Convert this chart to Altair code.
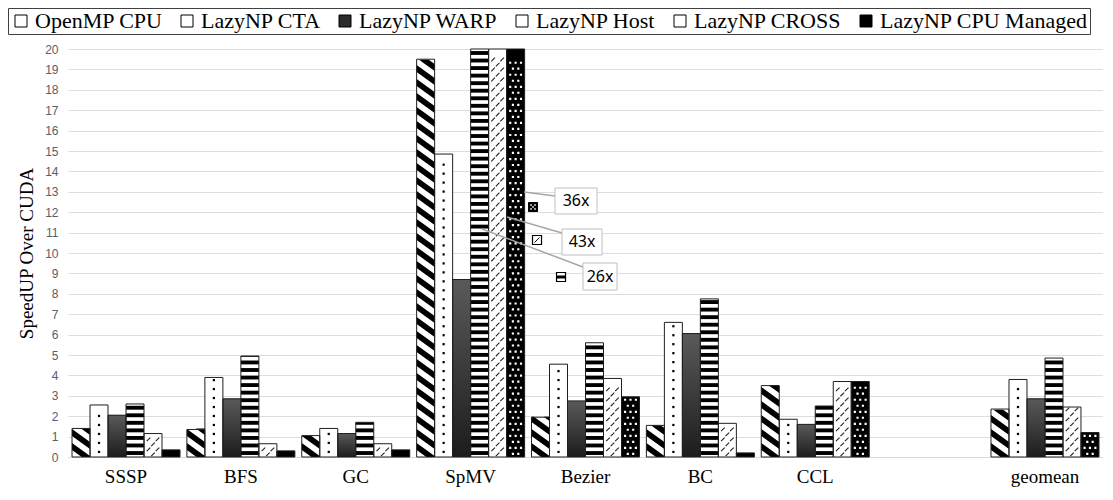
import altair as alt
import pandas as pd

# ---------------- data ----------------
categories = ["SSSP", "BFS", "GC", "SpMV", "Bezier", "BC", "CCL", " ", "geomean"]
series = ["OpenMP CPU", "LazyNP CTA", "LazyNP WARP", "LazyNP Host",
          "LazyNP CROSS", "LazyNP CPU Managed"]

openmp_cpu     = [1.40, 1.35, 1.05, 19.50, 1.95, 1.55, 3.50, None, 2.35]
lazynp_cta     = [2.55, 3.90, 1.40, 14.85, 4.55, 6.60, 1.85, None, 3.80]
lazynp_warp    = [2.05, 2.85, 1.15,  8.70, 2.75, 6.05, 1.60, None, 2.85]
lazynp_host    = [2.60, 4.95, 1.70, 26.00, 5.60, 7.75, 2.50, None, 4.85]
lazynp_cross   = [1.15, 0.65, 0.65, 43.00, 3.85, 1.65, 3.70, None, 2.45]
lazynp_managed = [0.35, 0.30, 0.35, 36.00, 2.95, 0.20, 3.70, None, 1.20]

y_ticks = list(range(0, 21))
Y_MAX = 20

rows = []
for s, vals in zip(series, [openmp_cpu, lazynp_cta, lazynp_warp,
                            lazynp_host, lazynp_cross, lazynp_managed]):
    for c, v in zip(categories, vals):
        if v is not None:
            rows.append({"category": c, "series": s, "value": v})
df = pd.DataFrame(rows)

# ---------------- layout / styles ----------------
PLOT_W, PLOT_H = 1035, 408
PX_PER_UNIT = PLOT_H / Y_MAX
SERIF = "Liberation Serif"
SANS = "Liberation Sans"
base_fills = ["#ffffff", "#ffffff", "#2b2b2b", "#ffffff", "#ffffff", "#000000"]

x_enc = alt.X(
    "category:N", sort=categories,
    scale=alt.Scale(domain=categories, paddingInner=0.06, paddingOuter=0.035),
    axis=alt.Axis(title=None, labelAngle=0, labelFont=SERIF, labelFontSize=19,
                  labelColor="black", labelPadding=10, ticks=False,
                  domain=True, domainColor="#d9d9d9", grid=False),
)
xo_enc = alt.XOffset("series:N", sort=series,
                     scale=alt.Scale(domain=series, paddingInner=0, paddingOuter=0))
y_scale = alt.Scale(domain=[0, Y_MAX], clamp=True, nice=False, zero=True)
y_axis = alt.Axis(title="SpeedUP Over CUDA", titleFont=SERIF, titleFontSize=19,
                  titleFontWeight="normal", titleColor="black", titlePadding=8,
                  values=y_ticks, labelFont=SANS, labelFontSize=12,
                  labelColor="#56606c", labelPadding=10, domain=False, ticks=False,
                  grid=True, gridColor="#dadee4", gridWidth=1)


def yq(field):
    return alt.Y(field, scale=y_scale, axis=y_axis)


base = alt.Chart(df)

bars = base.mark_bar(strokeWidth=0).encode(
    x=x_enc, xOffset=xo_enc, y=yq("value:Q"),
    color=alt.Color(
        "series:N", sort=series,
        scale=alt.Scale(domain=series, range=base_fills),
        legend=alt.Legend(
            title=None, orient="none", legendX=-60, legendY=-41,
            direction="horizontal", columns=6, columnPadding=13,
            symbolType="square", symbolSize=144, symbolStrokeColor="black",
            symbolStrokeWidth=1, labelFont=SERIF, labelFontSize=22,
            labelColor="black", labelLimit=400, labelOffset=3, padding=2,
            strokeColor="#404040"),
    ),
)

# WARP: dark vertical gradient
warp = base.transform_filter(alt.datum.series == "LazyNP WARP").mark_bar(
    strokeWidth=0,
    color=alt.Gradient(gradient="linear", x1=0, y1=0, x2=0, y2=1,
                       stops=[alt.GradientStop(color="#5a5a5a", offset=0),
                              alt.GradientStop(color="#1c1c1c", offset=1)]),
).encode(x=x_enc, xOffset=xo_enc, y=yq("value:Q"))


def seq_layer(name, start, end_margin, step):
    return (base.transform_filter(alt.datum.series == name)
            .transform_calculate(top=f"min(datum.value, {Y_MAX})")
            .transform_calculate(s=f"sequence({start}, datum.top - {end_margin}, {step})")
            .transform_flatten(["s"]))


# Host: horizontal stripes
host = (base.transform_filter(alt.datum.series == "LazyNP Host")
        .transform_calculate(top=f"min(datum.value, {Y_MAX})")
        .transform_calculate(s="sequence(0.1, datum.top, 0.37)")
        .transform_flatten(["s"])
        .transform_calculate(s2="min(datum.s + 0.19, datum.top)")
        .mark_bar(color="black", strokeWidth=0)
        .encode(x=x_enc, xOffset=xo_enc, y=yq("s:Q"), y2="s2:Q"))


# OpenMP: diagonal stripes drawn as stacked pattern tiles (pixel-unit symbols)
BAR_W = 18.0       # sub-band width in px
TILE_P = 14.0      # pattern period (px)
SLOPE = 13.0 / 18  # drop per px across the bar
THICK = 7.0        # vertical thickness of a black band (px)
N_VAR = 8


def clip_poly(poly, xmin, xmax, ymin, ymax):
    def clip(pts, inside, inter):
        out = []
        for i in range(len(pts)):
            cur, prev = pts[i], pts[i - 1]
            if inside(cur):
                if not inside(prev):
                    out.append(inter(prev, cur))
                out.append(cur)
            elif inside(prev):
                out.append(inter(prev, cur))
        return out

    def ix(a, b, x):
        t = (x - a[0]) / (b[0] - a[0])
        return (x, a[1] + t * (b[1] - a[1]))

    def iy(a, b, y):
        t = (y - a[1]) / (b[1] - a[1])
        return (a[0] + t * (b[0] - a[0]), y)

    pts = poly
    for inside, inter in [
        (lambda p: p[0] >= xmin, lambda a, b: ix(a, b, xmin)),
        (lambda p: p[0] <= xmax, lambda a, b: ix(a, b, xmax)),
        (lambda p: p[1] >= ymin, lambda a, b: iy(a, b, ymin)),
        (lambda p: p[1] <= ymax, lambda a, b: iy(a, b, ymax)),
    ]:
        if not pts:
            break
        pts = clip(pts, inside, inter)
    return pts


def diag_tile(height, extend):
    vlo = TILE_P - height - extend
    parts = []
    for n in range(-3, 3):
        b = n * TILE_P
        band = [(0, b), (BAR_W, b + SLOPE * BAR_W),
                (BAR_W, b + SLOPE * BAR_W + THICK), (0, b + THICK)]
        c = clip_poly(band, 0, BAR_W, vlo, TILE_P)
        if len(c) >= 3:
            parts.append("M" + "L".join(
                f"{u - BAR_W / 2:.2f},{v - TILE_P:.2f}" for u, v in c) + "Z")
    return "".join(parts) if parts else "M0,0Z"


variant_names = [f"v{j}" for j in range(1, N_VAR + 1)]
variant_paths = [diag_tile(TILE_P * j / N_VAR, 0.5 if j == N_VAR else 0)
                 for j in range(1, N_VAR + 1)]
TILE_U = TILE_P / PX_PER_UNIT

openmp = (base.transform_filter(alt.datum.series == "OpenMP CPU")
          .transform_calculate(top=f"min(datum.value, {Y_MAX})")
          .transform_calculate(s=f"sequence(0, datum.top, {TILE_U})")
          .transform_flatten(["s"])
          .transform_calculate(
              j=f"round(min(datum.top - datum.s, {TILE_U}) / {TILE_U} * {N_VAR})")
          .transform_filter("datum.j > 0")
          .transform_calculate(variant="'v' + datum.j")
          .mark_point(size=4, filled=True, color="black", opacity=1, strokeWidth=0)
          .encode(x=x_enc, xOffset=xo_enc, y=yq("s:Q"),
                  shape=alt.Shape("variant:N",
                                  scale=alt.Scale(domain=variant_names, range=variant_paths),
                                  legend=None)))

# CTA: column of dots
cta = seq_layer("LazyNP CTA", 0.25, 0.1, 0.44).mark_point(
    shape="square", size=5, filled=True, color="black", opacity=1, strokeWidth=0
).encode(x=x_enc, xOffset=xo_enc, y=yq("s:Q"))


def slash(cx, cy, h=0.2):
    return f"M{cx - h},{cy + h}L{cx + h},{cy - h}"


cross_path = slash(-0.5, -0.28) + slash(0.5, -0.28) + slash(0, 0.28)
cross = seq_layer("LazyNP CROSS", 0.25, 0.2, 0.49).mark_point(
    shape=cross_path, size=324, filled=False, stroke="#222222", strokeWidth=1.1, opacity=1
).encode(x=x_enc, xOffset=xo_enc, y=yq("s:Q"))


def sq(cx, cy, h):
    return f"M{cx - h},{cy - h}L{cx + h},{cy - h}L{cx + h},{cy + h}L{cx - h},{cy + h}Z"


dots_path = (sq(-0.6, -0.33, 0.12) + sq(0, -0.33, 0.12) + sq(0.6, -0.33, 0.12)
             + sq(-0.3, 0.33, 0.12) + sq(0.3, 0.33, 0.12))
managed = seq_layer("LazyNP CPU Managed", 0.3, 0.25, 0.59).mark_point(
    shape=dots_path, size=324, filled=True, color="white", opacity=1, strokeWidth=0
).encode(x=x_enc, xOffset=xo_enc, y=yq("s:Q"))

outline = base.mark_bar(fillOpacity=0, stroke="#1f1f1f", strokeWidth=1).encode(
    x=x_enc, xOffset=xo_enc, y=yq("value:Q"))

# ---------------- callouts for clipped SpMV bars ----------------
# offsets in px relative to the top of each clipped bar
callout_style = {
    "LazyNP CPU Managed": dict(leader=(8.4, 143, 39.4, 147), box=(39.4, 139, 81.4, 165),
                               icon=(17.4, 158), text=(60.4, 152)),
    "LazyNP CROSS": dict(leader=(9.4, 168, 64.4, 184), box=(64.4, 180, 104.4, 206),
                         icon=(39.4, 191), text=(84.4, 193)),
    "LazyNP Host": dict(leader=(2.4, 180, 103.4, 218), box=(103.4, 214, 137.4, 241),
                        icon=(81.4, 228), text=(120.4, 227.5)),
}


def rect_path(x0, y0, x1, y1):
    return f"M{x0},{y0}L{x1},{y0}L{x1},{y1}L{x0},{y1}Z"


callouts = []
for name, st in callout_style.items():
    src = base.transform_filter(
        (alt.datum.series == name) & (alt.datum.value > Y_MAX)
    ).transform_calculate(label="toString(datum.value) + 'x'")
    enc = dict(x=x_enc, xOffset=xo_enc, y=yq("value:Q"))
    lx0, ly0, lx1, ly1 = st["leader"]
    callouts.append(src.mark_point(
        shape=f"M{lx0},{ly0}L{lx1},{ly1}", size=4, filled=False,
        stroke="#a6a6a6", strokeWidth=1.5, opacity=1).encode(**enc))
    callouts.append(src.mark_point(
        shape=rect_path(*st["box"]), size=4, filled=True, fill="white",
        stroke="#bfbfbf", strokeWidth=1, opacity=1).encode(**enc))
    cx, cy = st["icon"]
    h = 4.5
    if name == "LazyNP CPU Managed":
        callouts.append(src.mark_point(
            shape=rect_path(cx - h, cy - h, cx + h, cy + h), size=4, filled=True,
            fill="black", stroke="black", strokeWidth=1, opacity=1).encode(**enc))
        callouts.append(src.mark_point(
            shape=sq(cx - 2, cy - 2, 0.8) + sq(cx + 2, cy - 2, 0.8) + sq(cx, cy, 0.8)
            + sq(cx - 2, cy + 2, 0.8) + sq(cx + 2, cy + 2, 0.8),
            size=4, filled=True, fill="white", strokeWidth=0, opacity=1).encode(**enc))
    else:
        callouts.append(src.mark_point(
            shape=rect_path(cx - h, cy - h, cx + h, cy + h), size=4, filled=True,
            fill="white", stroke="black", strokeWidth=1.2, opacity=1).encode(**enc))
        if name == "LazyNP Host":
            callouts.append(src.mark_point(
                shape=rect_path(cx - h, cy - 1.5, cx + h, cy + 1.5), size=4,
                filled=True, fill="black", strokeWidth=0, opacity=1).encode(**enc))
        else:
            callouts.append(src.mark_point(
                shape=f"M{cx - 2.5},{cy + 2.5}L{cx + 2.5},{cy - 2.5}", size=4,
                filled=False, stroke="black", strokeWidth=1, opacity=1).encode(**enc))
    tx, ty = st["text"]
    callouts.append(src.mark_text(
        dx=tx, dy=ty, align="center", baseline="middle", font="Noto Sans",
        fontSize=16, color="black").encode(text="label:N", **enc))

chart = alt.layer(
    bars, warp, host, openmp, cta, cross, managed, outline, *callouts
).properties(
    width=PLOT_W, height=PLOT_H,
    padding={"left": 60, "top": 41, "right": 0, "bottom": 31},
    autosize=alt.AutoSizeParams(type="none"),
    background="white",
).configure_view(stroke=None)

chart.save("out.html", embed_options={"renderer": "svg", "actions": False})
